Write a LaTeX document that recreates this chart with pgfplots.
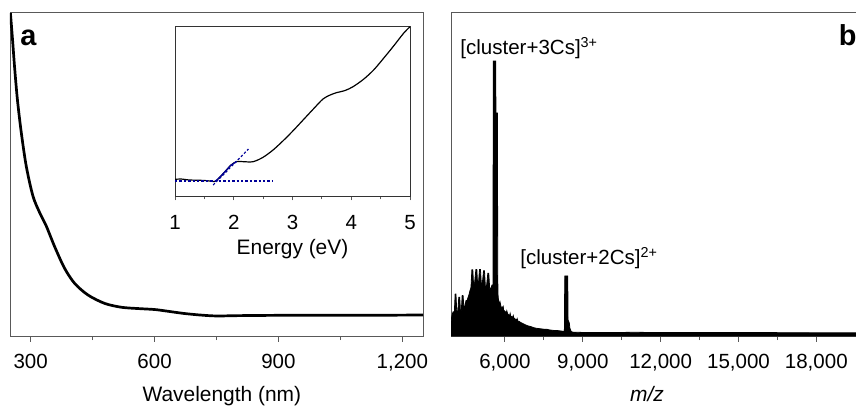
\documentclass[border=0pt]{standalone}
\usepackage{fontspec}
\setmainfont{Liberation Sans}
\usepackage{pgfplots}
\pgfplotsset{compat=1.18}

\pgfplotsset{
  panel/.style={
    scale only axis,
    height=161.5bp,
    ymin=0, ymax=1, ytick=\empty,
    tick align=outside,
    xtick pos=left,
    minor x tick num=1,
    major tick length=2.8bp,
    minor tick length=2bp,
    axis line style={draw=black!65, line width=0.5bp},
    every tick/.append style={draw=black!65, line width=0.5bp},
    /pgf/number format/assume math mode=true,
    /pgf/number format/1000 sep={,},
    scaled x ticks=false,
    tick label style={font=\fontsize{10.3}{12}\selectfont},
    xticklabel style={yshift=-2.5bp},
    label style={font=\fontsize{10.5}{12}\selectfont},
    clip mode=individual,
  },
}
\tikzset{plabel/.style={anchor=base west, inner sep=0pt, font=\fontsize{14.5}{16}\selectfont\bfseries}}

\begin{document}
\fontsize{10.3}{12}\selectfont
\begin{tikzpicture}

% (a) absorption spectrum
\begin{axis}[panel,
    at={(0,0)}, anchor=south west,
    width=206.5bp,
    xmin=250, xmax=1250,
    xtick={300,600,900,1200},
    xlabel={Wavelength (nm)},
    xlabel style={at={(axis description cs:0.513,0)}, anchor=base, yshift=-32.5bp},
]
\addplot[black, line width=1.35bp, smooth] coordinates {
    (251,1.0) (256,0.92) (261,0.834) (268,0.731) (277.5,0.628) (289.6,0.524)
    (305.6,0.433) (321.8,0.382) (338,0.340) (358,0.277) (382,0.210)
    (406.5,0.163) (438.7,0.127) (479,0.101) (519.5,0.089) (559.6,0.085)
    (600,0.082) (630,0.077) (670,0.070) (710,0.065) (750,0.062)
    (800,0.063) (900,0.064) (1000,0.064) (1100,0.064) (1250,0.065)
};
\node[plabel] at (rel axis cs:0.0242,0.899) {a};
\end{axis}

% inset: energy scale
\begin{axis}[panel,
    at={(82.5bp,69.65bp)}, anchor=south west,
    width=117.5bp, height=85bp,
    xmin=1, xmax=5,
    xtick={1,2,3,4,5},
    major tick length=1.8bp, minor tick length=1.3bp,
    xticklabel style={yshift=-1.2bp},
    axis line style={draw=black!80, line width=0.5bp},
    axis background/.style={fill=white},
    xlabel={Energy (eV)},
    xlabel style={at={(axis description cs:0.5,0)}, anchor=base, yshift=-28.8bp},
]
\addplot[black, line width=0.6bp, smooth] coordinates {
    (1.0,0.102) (1.1,0.104) (1.25,0.098) (1.4,0.097) (1.55,0.094) (1.68,0.090)
    (1.75,0.110) (1.85,0.147) (1.95,0.185) (2.05,0.207) (2.16,0.206) (2.33,0.206)
    (2.50,0.232) (2.67,0.275) (2.84,0.329) (3.01,0.388) (3.18,0.451) (3.35,0.514)
    (3.52,0.575) (3.64,0.598) (3.75,0.612) (3.89,0.624) (4.03,0.647) (4.21,0.691)
    (4.38,0.745) (4.55,0.814) (4.72,0.886) (4.89,0.961) (5.0,1.0)
};
\addplot[blue!60!black, line width=0.6bp] coordinates {
    (1.68,0.090) (1.75,0.110) (1.85,0.147) (1.95,0.185) (2.05,0.207)
};
\addplot[blue!60!black, line width=0.6bp, dash pattern=on 1.2bp off 1bp] coordinates {
    (1.0,0.092) (2.65,0.092)
};
\addplot[blue!60!black, line width=0.6bp, dash pattern=on 1.2bp off 1bp] coordinates {
    (1.65,0.069) (2.25,0.28)
};
\end{axis}

% (b) mass spectrum
\begin{axis}[panel,
    at={(220.5bp,0)}, anchor=south west,
    width=202.5bp,
    xmin=3920, xmax=19530,
    axis x line*=box, axis y line*=left,
    x axis line style={-}, y axis line style={-},
    xtick pos=left,
    xtick={6000,9000,12000,15000,18000},
    xlabel={\textit{m/z}},
    xlabel style={at={(axis description cs:0.484,0)}, anchor=base, yshift=-32.5bp},
]
\addplot[draw=black, fill=black, line width=0.4bp] coordinates {
    (3922,0.0) (3930,0.05) (3960,0.065) (4000,0.075) (4050,0.075)
    (4080,0.13) (4110,0.13) (4140,0.08) (4180,0.07) (4220,0.12) (4255,0.12)
    (4285,0.075) (4320,0.08) (4350,0.125) (4385,0.125) (4415,0.09) (4450,0.09)
    (4500,0.11) (4540,0.11) (4580,0.12) (4620,0.13) (4650,0.14) (4690,0.15)
    (4725,0.205) (4760,0.205) (4790,0.158) (4830,0.165) (4880,0.206) (4915,0.206)
    (4945,0.16) (4980,0.165) (5020,0.206) (5055,0.206) (5090,0.16) (5130,0.165)
    (5175,0.202) (5210,0.202) (5245,0.152) (5290,0.155) (5340,0.194) (5375,0.194)
    (5410,0.148) (5450,0.145) (5500,0.158) (5525,0.158) (5540,0.15)
    (5548,0.851) (5645,0.851) (5650,0.69) (5710,0.69) (5720,0.2) (5730,0.13)
    (5750,0.111) (5790,0.098) (5810,0.105) (5850,0.09) (5900,0.088) (5930,0.092)
    (5950,0.08) (6000,0.076) (6050,0.072) (6070,0.078) (6100,0.07) (6130,0.066)
    (6180,0.064) (6200,0.070) (6220,0.062) (6260,0.060) (6300,0.058) (6320,0.063)
    (6340,0.056) (6400,0.052) (6450,0.050) (6470,0.054) (6500,0.046) (6550,0.045)
    (6600,0.042) (6650,0.040) (6700,0.038) (6800,0.034) (6900,0.031) (7000,0.029)
    (7100,0.026) (7200,0.024) (7300,0.023) (7400,0.022) (7500,0.021) (7600,0.021)
    (7700,0.019) (7800,0.018) (7900,0.017) (8000,0.017) (8100,0.016) (8200,0.015)
    (8290,0.015) (8305,0.186) (8420,0.186) (8430,0.05) (8460,0.044) (8480,0.04)
    (8500,0.025) (8550,0.014) (8600,0.012) (9000,0.011) (10000,0.0105)
    (11000,0.0115) (12000,0.0105) (14000,0.0105) (16000,0.0105) (18000,0.010)
    (19600,0.010)
} \closedcycle;
\node[anchor=base west, inner sep=0pt] at (axis cs:4267,0.870) {[cluster+3Cs]\textsuperscript{3+}};
\node[anchor=base west, inner sep=0pt] at (axis cs:6577,0.220) {[cluster+2Cs]\textsuperscript{2+}};
\node[plabel] at (rel axis cs:0.9565,0.899) {b};
\end{axis}

\pgfresetboundingbox
\useasboundingbox (-5bp,-37.5bp) rectangle (423bp,168bp);
\end{tikzpicture}
\end{document}
